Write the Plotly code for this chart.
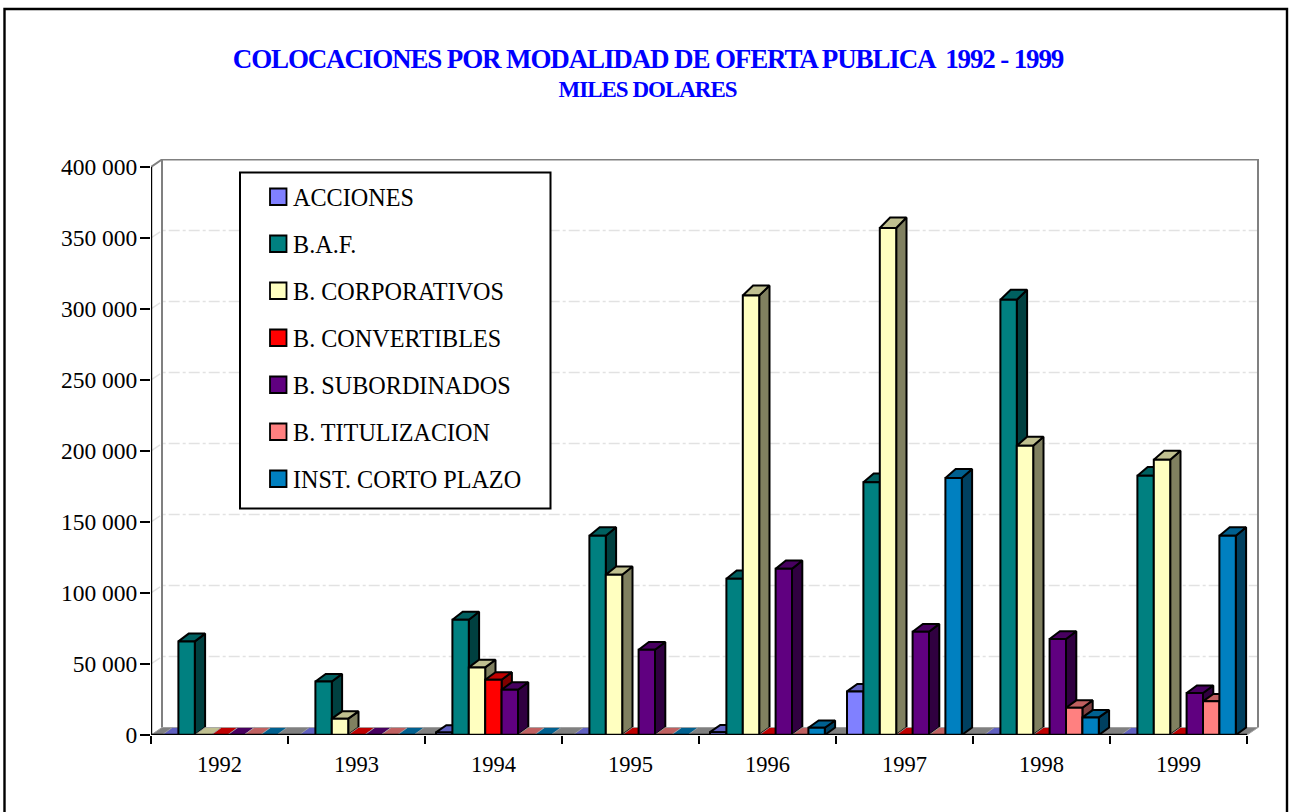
import plotly.graph_objects as go

# Data
years = ["1992", "1993", "1994", "1995", "1996", "1997", "1998", "1999"]
acciones = [0, 0, 1800, 0, 2000, 30700, 0, 0]
baf = [65900, 37700, 81200, 140300, 110000, 178000, 306500, 182500]
corporativos = [0, 11500, 47600, 112900, 309500, 357000, 203700, 193800]
convertibles = [0, 0, 38900, 0, 0, 0, 0, 0]
subordinados = [0, 0, 31900, 60000, 117000, 72700, 67600, 29600]
titulizacion = [0, 0, 0, 0, 0, 0, 19200, 23700]
corto_plazo = [0, 0, 0, 0, 5100, 181000, 12400, 140300]

series_names = ["ACCIONES", "B.A.F.", "B. CORPORATIVOS", "B. CONVERTIBLES",
                "B. SUBORDINADOS", "B. TITULIZACION", "INST. CORTO PLAZO"]
series_values = [acciones, baf, corporativos, convertibles,
                 subordinados, titulizacion, corto_plazo]
# front, top, side
series_colors = [("#8080FF", "#6060C0", "#404080"),
                 ("#008080", "#006060", "#004040"),
                 ("#FFFFC0", "#C0C090", "#808060"),
                 ("#FF0000", "#C00000", "#800000"),
                 ("#600080", "#480060", "#300040"),
                 ("#FF8080", "#C06060", "#804040"),
                 ("#0080C0", "#006090", "#004060")]
y_ticks = [0, 50000, 100000, 150000, 200000, 250000, 300000, 350000, 400000]
y_labels = ["0", "50 000", "100 000", "150 000", "200 000",
            "250 000", "300 000", "350 000", "400 000"]

# Pixel layout of the frame
W, H = 1289, 812
LEFT, RIGHT, TOP, BOTTOM = 151, 1259, 159, 735
PX_PER_CAT = 137
PX_PER_UNIT = 71 / 50000

FONT = "Liberation Serif"


def px_x(px):
    return px / PX_PER_CAT


def px_y(px):
    return px / PX_PER_UNIT


def paper_x(px):
    return (px - LEFT) / (RIGHT - LEFT)


def paper_y(px):
    return (BOTTOM - px) / (BOTTOM - TOP)


# 3D offsets
wall_dx, wall_dy = px_x(11), px_y(7.5)
bar_dx = px_x(10.3)
floor_dy = px_y(7.5)
group_start = px_x(11)
bar_w = px_x(16.4)
n_cat = len(years)


def depth_y(v):
    # the original's projection: taller bars show a deeper top
    return px_y(7.2 + 3.3 * v / 357000)


def poly(xs, ys, fill, line_color="black", width=2, name=None):
    return go.Scatter(
        x=xs + xs[:1], y=ys + ys[:1],
        mode="lines", fill="toself", fillcolor=fill,
        line=dict(color=line_color, width=width),
        cliponaxis=False, showlegend=False,
        hoverinfo="text" if name else "skip", text=name,
    )


fig = go.Figure()

# Gridlines: side wall diagonal plus back wall
gx, gy = [], []
for v in y_ticks[1:-1]:
    gx += [0, wall_dx, n_cat + wall_dx, None]
    gy += [v, v + wall_dy, v + wall_dy, None]
fig.add_trace(go.Scatter(x=gx, y=gy, mode="lines", showlegend=False, hoverinfo="skip",
                         cliponaxis=False,
                         line=dict(color="#E2E2E2", width=1.5, dash="11px,3px,3px,3px")))

# Walls
top = y_ticks[-1]
fig.add_trace(go.Scatter(
    x=[0, wall_dx, n_cat + wall_dx, n_cat + wall_dx, None, wall_dx, wall_dx],
    y=[top, top + wall_dy, top + wall_dy, floor_dy, None, top + wall_dy, floor_dy],
    mode="lines", line=dict(color="#808080", width=2),
    showlegend=False, hoverinfo="skip", cliponaxis=False))

# Floor
fig.add_trace(poly([0, n_cat, n_cat + wall_dx, wall_dx], [0, 0, floor_dy, floor_dy],
                   "#808080", "#A0A0A0", 1))

# Bars, painted left to right so each one hides the side of the previous one
for c in range(n_cat):
    for s, vals in enumerate(series_values):
        v = vals[c]
        x0 = c + group_start + s * bar_w
        x1 = x0 + bar_w
        front, top_c, side = series_colors[s]
        if v == 0:
            fig.add_trace(poly([x0, x1, x1 + bar_dx, x0 + bar_dx], [0, 0, floor_dy, floor_dy],
                               top_c, "#A8A8A8", 0.8))
            continue
        dy = depth_y(v)
        fig.add_trace(poly([x1, x1 + bar_dx, x1 + bar_dx, x1], [0, floor_dy, v + dy, v], side))
        fig.add_trace(poly([x0, x1, x1 + bar_dx, x0 + bar_dx], [v, v, v + dy, v + dy], top_c))
        fig.add_trace(poly([x0, x1, x1, x0], [0, 0, v, v], front,
                           name=f"{series_names[s]} {years[c]}: {v:,}"))

# Front axis lines
fig.add_trace(go.Scatter(x=[0, 0, n_cat], y=[top, 0, 0], mode="lines",
                         line=dict(color="black", width=2.4),
                         showlegend=False, hoverinfo="skip", cliponaxis=False))

# Frame and legend box
shapes = [
    dict(type="rect", xref="paper", yref="paper", layer="below",
         x0=paper_x(4.5), x1=paper_x(1287), y0=paper_y(9), y1=paper_y(830),
         line=dict(color="black", width=2.4)),
    dict(type="rect", xref="paper", yref="paper", layer="above",
         x0=paper_x(240), x1=paper_x(550.5), y0=paper_y(172.5), y1=paper_y(508.5),
         fillcolor="white", line=dict(color="black", width=2)),
]
annotations = [dict(
    text="<b>MILES DOLARES</b>", showarrow=False,
    xref="paper", yref="paper", x=paper_x(647), y=paper_y(90),
    xanchor="center", yanchor="middle",
    font=dict(family=FONT, size=23, color="#0000FF"),
)]
for i, (name, colors) in enumerate(zip(series_names, series_colors)):
    cy = 197 + i * 47
    shapes.append(dict(type="rect", xref="paper", yref="paper", layer="above",
                       x0=paper_x(270), x1=paper_x(286.5), y0=paper_y(cy - 8.5), y1=paper_y(cy + 8),
                       fillcolor=colors[0], line=dict(color="black", width=1.8)))
    annotations.append(dict(text=name, showarrow=False, xref="paper", yref="paper",
                            x=paper_x(291), y=paper_y(cy), xanchor="left", yanchor="middle",
                            font=dict(family=FONT, size=24.2, color="black")))

fig.update_layout(
    width=W, height=H,
    margin=dict(l=LEFT, r=W - RIGHT, t=TOP, b=H - BOTTOM, pad=0),
    paper_bgcolor="white", plot_bgcolor="white",
    font=dict(family=FONT, size=22, color="black"),
    title=dict(
        text="<b>COLOCACIONES POR MODALIDAD DE OFERTA PUBLICA  1992 - 1999</b>",
        font=dict(family=FONT, size=27, color="#0000FF"),
        x=648 / W, xanchor="center", y=1 - 59 / H, yanchor="middle",
    ),
    annotations=annotations,
    shapes=shapes,
    xaxis=dict(
        range=[0, (RIGHT - LEFT) / PX_PER_CAT],
        tickmode="array",
        tickvals=[i + 0.5 for i in range(n_cat)], ticktext=years,
        ticks="", ticklen=0, showgrid=False, zeroline=False, showline=False,
        minor=dict(tickmode="array", tickvals=list(range(n_cat + 1)), ticks="outside",
                   ticklen=8, tickwidth=2, tickcolor="black", showgrid=False),
        tickfont=dict(family=FONT, size=22.5, color="#000000"),
        ticklabelstandoff=13,
    ),
    yaxis=dict(
        range=[0, (BOTTOM - TOP) / PX_PER_UNIT],
        tickmode="array", tickvals=y_ticks, ticktext=y_labels,
        ticks="outside", ticklen=10, tickwidth=2, tickcolor="black",
        showgrid=False, zeroline=False, showline=False,
        tickfont=dict(family=FONT, size=23.5, color="#000000"),
        ticklabelstandoff=-2,
    ),
    showlegend=False,
)

# tighter letter spacing of the title lines, the font options have no setting for it
tighten = """
document.body.style.margin = '0';
document.querySelectorAll('.gtitle').forEach(function (t) { t.style.letterSpacing = '-1.13px'; });
document.querySelectorAll('.annotation-text').forEach(function (t) {
    if (t.textContent === 'MILES DOLARES') { t.style.letterSpacing = '-1px'; }
});
"""
fig.write_html("out.html", config={"displayModeBar": False}, post_script=tighten)
